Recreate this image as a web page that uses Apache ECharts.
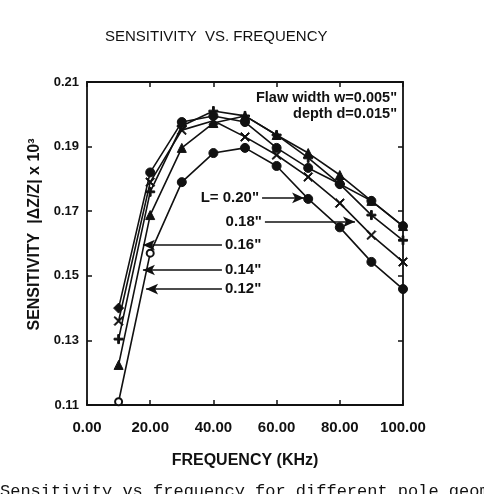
<!DOCTYPE html>
<html>
<head>
<meta charset="utf-8">
<script src="https://cdn.jsdelivr.net/npm/echarts@6/dist/echarts.min.js"></script>
<style>
  html, body { margin: 0; padding: 0; background: #fff; }
  #chart { width: 484px; height: 494px; }
</style>
</head>
<body>
<div id="chart"></div>
<script>
// frequency in KHz
const freq = [10, 20, 30, 40, 50, 60, 70, 80, 90, 100];

// sensitivity |dZ/Z| x 10^3, one array per flaw length
const l020 = [0.111, 0.157, 0.179, 0.188, 0.1896, 0.184, 0.1738, 0.165, 0.1543, 0.1459];
const l018 = [0.136, 0.179, 0.1951, 0.198, 0.193, 0.1874, 0.1806, 0.1725, 0.1626, 0.1543];
const l016 = [0.1224, 0.1688, 0.1896, 0.1973, 0.1995, 0.1936, 0.188, 0.1812, 0.1732, 0.1654];
const l014 = [0.1304, 0.176, 0.1964, 0.201, 0.1995, 0.1936, 0.1865, 0.1784, 0.1688, 0.161];
const l012 = [0.140, 0.182, 0.1976, 0.1995, 0.1976, 0.1896, 0.1834, 0.1784, 0.1732, 0.1654];

const yTicks = [0.11, 0.13, 0.15, 0.17, 0.19, 0.21];

// arrow annotations (data units): label, from x, to x, at y
const arrowText = ['L= 0.20"', '0.18"', '0.16"', '0.14"', '0.12"'];
const arrowFrom = [55.4, 56.3, 42.7, 42.7, 42.7];
const arrowTo = [68.7, 84.8, 17.7, 17.7, 18.7];
const arrowY = [0.1741, 0.1667, 0.1595, 0.1518, 0.1459];

const FONT = '"Liberation Sans", Arial, sans-serif';
const INK = '#111';

const plusPath = 'path://M4,0H6V4H10V6H6V10H4V6H0V4H4Z';
const crossPath = 'path://M1,0L5,4L9,0L10,1L6,5L10,9L9,10L5,6L1,10L0,9L4,5L0,1Z';

function pts(vals) {
  return vals.map((v, i) => [freq[i], v]);
}

function line(name, vals, symbol, size) {
  return {
    name: name,
    type: 'line',
    data: pts(vals),
    symbol: symbol,
    symbolSize: size,
    lineStyle: { color: INK, width: 1.6 },
    itemStyle: { color: INK, borderColor: INK },
    z: 3
  };
}

const s020 = line('L=0.20', l020, 'circle', 9);
// first two points are drawn as open circles
s020.data = s020.data.map((p, i) => i < 2
  ? { value: p, symbol: 'emptyCircle', symbolSize: 7, itemStyle: { color: INK, borderColor: INK, borderWidth: 1.5 } }
  : p);

const s012 = line('L=0.12', l012, 'circle', 9);
s012.data = s012.data.map((p, i) => i === 0 ? { value: p, symbol: 'diamond', symbolSize: 10 } : p);

const arrows = {
  type: 'line',
  data: [],
  silent: true,
  markLine: {
    silent: true,
    animation: false,
    symbol: ['none', 'arrow'],
    symbolSize: [8, 12],
    lineStyle: { color: INK, width: 1.6, type: 'solid' },
    label: {
      show: true,
      position: 'start',
      distance: 3,
      color: INK,
      fontFamily: FONT,
      fontWeight: 'bold',
      fontSize: 15,
      formatter: p => p.name
    },
    data: arrowText.map((t, i) => [
      { name: t, coord: [arrowFrom[i], arrowY[i]] },
      { coord: [arrowTo[i], arrowY[i]] }
    ])
  }
};

const axisCommon = {
  axisLine: { show: true, onZero: false, lineStyle: { color: INK, width: 1.8 } },
  axisTick: { show: true, inside: true, length: 5, lineStyle: { color: INK, width: 1.5 } },
  splitLine: { show: false }
};

const option = {
  animation: false,
  backgroundColor: '#fff',
  grid: { left: 87, right: 81, top: 82, bottom: 89 },
  xAxis: [
    Object.assign({}, axisCommon, {
      type: 'value', min: 0, max: 100, interval: 20,
      name: 'FREQUENCY (KHz)',
      nameLocation: 'middle',
      nameGap: 48,
      nameTextStyle: { color: INK, fontFamily: FONT, fontWeight: 'bold', fontSize: 16 },
      axisLabel: {
        color: INK, fontFamily: FONT, fontWeight: 'bold', fontSize: 15, margin: 15,
        formatter: v => v.toFixed(2)
      }
    }),
    Object.assign({}, axisCommon, {
      type: 'value', min: 0, max: 100, interval: 20, position: 'top',
      axisLabel: { show: false }
    })
  ],
  yAxis: [
    Object.assign({}, axisCommon, {
      type: 'value', min: 0.11, max: 0.21,
      name: 'SENSITIVITY  |ΔZ/Z| x 10³',
      nameLocation: 'middle',
      nameRotate: 90,
      nameGap: 37,
      nameTextStyle: { color: INK, fontFamily: FONT, fontWeight: 'bold', fontSize: 16, padding: [0, 0, 0, 18] },
      axisTick: Object.assign({}, axisCommon.axisTick, { customValues: yTicks }),
      axisLabel: {
        color: INK, fontFamily: FONT, fontWeight: 'bold', fontSize: 13, margin: 8,
        customValues: yTicks,
        formatter: v => v.toFixed(2)
      }
    }),
    Object.assign({}, axisCommon, {
      type: 'value', min: 0.11, max: 0.21, position: 'right',
      axisTick: Object.assign({}, axisCommon.axisTick, { customValues: yTicks }),
      axisLabel: { show: false }
    })
  ],
  graphic: [
    {
      type: 'text', left: 105, top: 29,
      style: { text: 'SENSITIVITY  VS. FREQUENCY', fill: INK, font: '15px ' + FONT }
    },
    {
      type: 'text', right: 87, top: 90,
      style: { text: 'Flaw width w=0.005"', fill: INK, font: 'bold 14.5px ' + FONT, align: 'right' }
    },
    {
      type: 'text', right: 87, top: 106,
      style: { text: 'depth d=0.015"', fill: INK, font: 'bold 14.5px ' + FONT, align: 'right' }
    },
    {
      type: 'text', left: 0, top: 483,
      style: { text: 'Sensitivity vs frequency for different pole geometries', fill: INK, font: '17px "Liberation Mono", monospace' }
    }
  ],
  series: [
    s020,
    line('L=0.18', l018, crossPath, 9),
    line('L=0.16', l016, 'triangle', 9),
    line('L=0.14', l014, plusPath, 9),
    s012,
    arrows
  ]
};

const chart = echarts.init(document.getElementById('chart'), null, { renderer: 'canvas' });
chart.setOption(option);
</script>
</body>
</html>
